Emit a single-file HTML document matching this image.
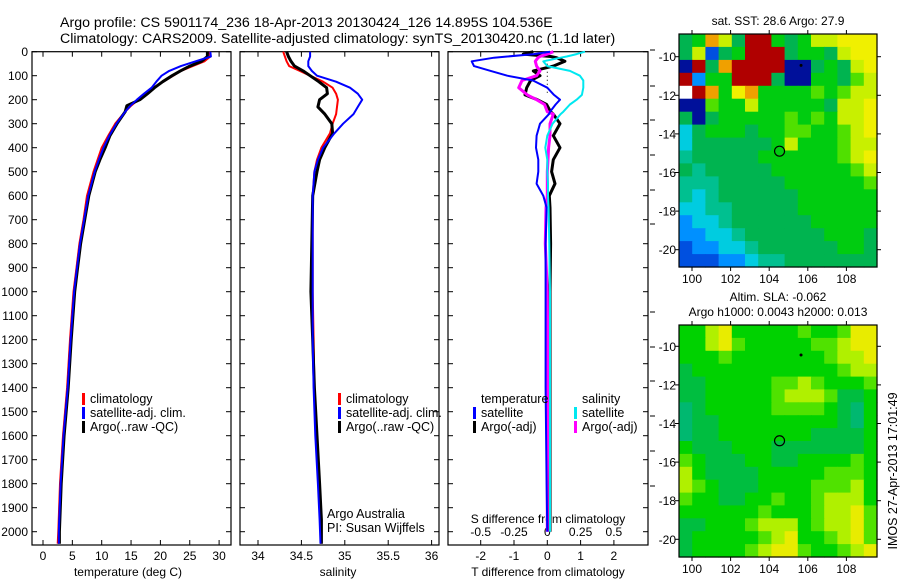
<!DOCTYPE html>
<html><head><meta charset="utf-8">
<style>
html,body{margin:0;padding:0;background:#fff;}
svg{display:block;font-family:"Liberation Sans",sans-serif;}
text{fill:#000;}
</style></head>
<body>
<svg id="chart" width="900" height="580" viewBox="0 0 900 580">
<text x="60" y="27" font-size="14.2">Argo profile: CS 5901174_236 18-Apr-2013 20130424_126 14.895S 104.536E</text>
<text x="60" y="43" font-size="14.2">Climatology: CARS2009. Satellite-adjusted climatology: synTS_20130420.nc (1.1d later)</text>
<g id="g"></g>
</svg>
<script>
// ---------- data ----------
const tDepth = [0,20,40,60,80,100,125,150,175,200,225,250,300,350,400,450,500,600,700,800,900,1000,1200,1400,1600,1800,2000,2050];
const tempClim = [28.3,28.5,27.5,25.5,23.5,22.2,20.5,18.8,17.4,16.2,15.0,14.0,12.3,11.1,10.0,9.3,8.6,7.5,6.9,6.2,5.7,5.2,4.6,4.1,3.4,2.9,2.6,2.5];
const tempSat  = [28.5,28.6,26.0,23.5,21.5,20.2,19.3,18.5,17.2,16.0,14.9,14.0,12.5,11.3,10.3,9.5,8.8,7.7,7.0,6.3,5.8,5.3,4.7,4.2,3.5,3.0,2.7,2.7];
const tempArgo = [28.0,28.0,27.0,25.0,23.4,22.0,20.4,19.0,17.8,16.5,14.3,14.0,12.6,11.4,10.6,9.7,8.9,7.8,7.1,6.4,5.9,5.4,4.8,4.3,3.6,3.1,2.8,2.8];

const sDepth = [0,20,40,60,80,100,125,150,175,200,230,260,300,340,400,450,500,600,800,1000,1200,1400,1600,1800,1950,2050];
const salClim = [34.29,34.31,34.33,34.36,34.48,34.60,34.75,34.86,34.90,34.92,34.91,34.90,34.86,34.83,34.73,34.68,34.65,34.63,34.63,34.63,34.64,34.65,34.67,34.70,34.72,34.73];
const salSat  = [34.60,34.60,34.58,34.58,34.62,34.68,34.90,35.06,35.15,35.20,35.15,35.10,34.98,34.88,34.75,34.69,34.65,34.63,34.63,34.63,34.63,34.64,34.66,34.69,34.71,34.72];
const salArgo = [34.33,34.35,34.38,34.42,34.52,34.60,34.70,34.79,34.80,34.71,34.69,34.77,34.85,34.86,34.77,34.71,34.68,34.63,34.62,34.61,34.63,34.65,34.68,34.71,34.73,34.73];

const dDepth = [0,10,20,25,40,60,80,100,120,150,180,200,220,250,260,300,350,400,450,500,550,600,650,800,1000,1400,1800,2000];
const tDiffSat  = [0.08,-0.4,-1.2,-1.6,-2.27,-2.2,-1.7,-1.2,-0.43,0.0,0.2,0.38,0.25,0.08,0.05,-0.22,-0.32,-0.34,-0.27,-0.27,-0.32,-0.12,-0.02,-0.05,-0.05,-0.05,-0.02,0.0];
const tDiffArgo = [-0.42,-0.72,0.1,0.28,0.53,0.18,-0.42,-0.22,-0.5,-0.62,-0.67,-0.3,-0.02,0.1,0.18,0.38,0.18,0.38,0.18,0.13,0.23,0.06,0.08,0.1,0.08,0.08,0.08,0.08];
const sDiffSat  = [0.283,0.22,0.146,0.1,-0.03,0.0,0.17,0.245,0.27,0.27,0.26,0.22,0.17,0.12,0.1,0.04,0.0,-0.015,0.0,0.0,0.005,0.005,0.01,0.015,0.02,0.02,0.02,0.02];
const sDiffArgo = [0.045,0.0,-0.055,-0.07,-0.09,-0.08,-0.055,-0.08,-0.19,-0.215,-0.15,-0.08,-0.02,0.0,0.045,0.02,0.02,0.01,0.005,0.0,0.0,0.0,-0.01,-0.015,0.0,0.005,0.0,0.0];

const depthTicks = [0,100,200,300,400,500,600,700,800,900,1000,1100,1200,1300,1400,1500,1600,1700,1800,1900,2000];
const tempTicks = [0,5,10,15,20,25,30];
const salTicks = [34,34.5,35,35.5,36];
const salTickLabels = ["34","34.5","35","35.5","36"];
const tdTicks = [-2,-1,0,1,2];
const sdTicks = [-0.5,-0.25,0,0.25,0.5];
const sdTickLabels = ["-0.5","-0.25","0","0.25","0.5"];
const lonTicks = [100,102,104,106,108];
const latTicks = [10,12,14,16,18,20];
const argoLon = 104.536, argoLat = 14.895;

const sstRows = [
"gGoygRRGgGyyYYY","gyBgGRRRgGGgyYY","DRgoRRRRDDgGgyY","RbGGRRRgDDGGgly",
"WRoGYoGGGGlGlyy","DDlGGyGGGGGgyyY","gDgGGGGGlGlGyyY","cgGGGgGGllGGlyY",
"cggggggGyGGGlyy","tgggggGGGGGGlyY","gtgggggGGGGGGly","tttgggggGGGGGGl",
"tctggggggGGGGGG","ccttgggggGGGGGG","bcctggggggGGGGG","bbcctggggggGGGg",
"BbbcctggggggGGg","BBBbbcttggggggg"];
const slaRows = [
"GGyYGGGGGlGGlYY","GGyYlGGGGGllyYY","GGGlGGGGGGGlyyY","gGGGGGGGGGGGlyy",
"ggGGGGGllylGGGl","ggGGGGGlyyylggG","tgGGGGGllllGgtG","tggGGGGGGGGGgtG",
"tggGGGGGGGggggG","GgggGGGgggggggG","lGgggGGggGGGGlG","yGggggGGGGGlllG",
"ylGgggGGGGlllyG","lGGggGGlGGlyyyG","GGGGGGlGGGlyyYl","ggGGGlyyyGlyyYl",
"gGGGGGlyYGGlyYl","gGGGGlyYYlGGlyY"];
const sstPal = {D:"#00109a",B:"#0050e0",b:"#0090ff",c:"#00cce0",t:"#00c090",g:"#00b450",G:"#00cc10",l:"#50e000",y:"#c8f000",Y:"#f0f000",o:"#f0a000",R:"#b00000",W:"#ffffff"};
const slaPal = {t:"#00b870",g:"#00be40",G:"#00d200",l:"#50e200",y:"#b0f000",Y:"#e8ec00"};

// ---------- helpers ----------
const NS="http://www.w3.org/2000/svg";
const root=document.getElementById('g');
function mk(tag,attrs,parent){const e=document.createElementNS(NS,tag);for(const k in attrs)e.setAttribute(k,attrs[k]);(parent||root).appendChild(e);return e;}
function txt(x,y,s,size,anchor,parent){const t=mk('text',{x:x,y:y,'font-size':size||12,'text-anchor':anchor||'start'},parent);t.textContent=s;return t;}

const yTop=51.7, pxPer100=24.0;
function yD(d){return yTop+d*pxPer100/100;}
const plotBottom=545;

function panel(x0,x1,name){
  const g=mk('g',{});
  
  
  const r=mk('rect',{x:x0,y:yTop,width:x1-x0,height:plotBottom-yTop,fill:'none',stroke:'#000','stroke-width':1.2},g);
  
  
  return g;
}
function line(g,xs,ys,fx,color,w,name){
  let d='';for(let i=0;i<xs.length;i++){d+=(i?'L':'M')+fx(xs[i]).toFixed(1)+','+yD(ys[i]).toFixed(1);}
  const p=mk('path',{d:d,fill:'none',stroke:color,'stroke-width':w,'stroke-linejoin':'round'},g);
  
  
  return p;
}
function legendEntry(g,x,y,color,label,name){
  const r=mk('rect',{x:x,y:y-10,width:3,height:12,fill:color},g);
  
  
  const t=txt(x+8,y,label,12.5,'start',g);
  
  
}

const P1=[32,231],P2=[240,439],P3=[448,648];
const yax=mk('g',{});


depthTicks.forEach(d=>{txt(28,yD(d)+4.5,String(d),12,'end',yax);});
[P1,P2,P3].forEach(P=>{depthTicks.forEach(d=>{
  mk('line',{x1:P[0],x2:P[0]+5,y1:yD(d),y2:yD(d),stroke:'#000'},yax);
  mk('line',{x1:P[1]-5,x2:P[1],y1:yD(d),y2:yD(d),stroke:'#000'},yax);
});});

// ---------- Panel 1 ----------
const fT=v=>43+(v-0)*5.87;
const g1=panel(P1[0],P1[1],'temperature-panel');
tempTicks.forEach(v=>{
  mk('line',{x1:fT(v),x2:fT(v),y1:plotBottom,y2:plotBottom-5,stroke:'#000'},g1);
  mk('line',{x1:fT(v),x2:fT(v),y1:yTop,y2:yTop+5,stroke:'#000'},g1);
  const t=txt(fT(v),560,String(v),12,'middle',g1);
  
  
});
txt(128,576,'temperature (deg C)',12,'middle',g1);
line(g1,tempClim,tDepth,fT,'#ff0000',2,'temp-climatology-line');
line(g1,tempArgo,tDepth,fT,'#000',3,'temp-argo-line');
line(g1,tempSat,tDepth,fT,'#0000ff',2,'temp-satellite-line');
legendEntry(g1,82,403,'#ff0000','climatology','legend-climatology');
legendEntry(g1,82,417,'#0000ff','satellite-adj. clim.','legend-satellite-adj');
legendEntry(g1,82,431,'#000','Argo(..raw -QC)','legend-argo');

// ---------- Panel 2 ----------
const fS=v=>258+(v-34)*86.8;
const g2=panel(P2[0],P2[1],'salinity-panel');
salTicks.forEach((v,i)=>{
  mk('line',{x1:fS(v),x2:fS(v),y1:plotBottom,y2:plotBottom-5,stroke:'#000'},g2);
  mk('line',{x1:fS(v),x2:fS(v),y1:yTop,y2:yTop+5,stroke:'#000'},g2);
  const t=txt(fS(v),560,salTickLabels[i],12,'middle',g2);
  
  
});
txt(338,576,'salinity',12,'middle',g2);
line(g2,salClim,sDepth,fS,'#ff0000',2,'sal-climatology-line');
line(g2,salArgo,sDepth,fS,'#000',3,'sal-argo-line');
line(g2,salSat,sDepth,fS,'#0000ff',2,'sal-satellite-line');
legendEntry(g2,338,403,'#ff0000','climatology','legend-climatology-2');
legendEntry(g2,338,417,'#0000ff','satellite-adj. clim.','legend-satellite-adj-2');
legendEntry(g2,338,431,'#000','Argo(..raw -QC)','legend-argo-2');
txt(327,518,'Argo Australia',12.5,'start',g2);
txt(327,532,'PI: Susan Wijffels',12.5,'start',g2);

// ---------- Panel 3 ----------
const fD=v=>547.3+v*33.3;
const fDS=v=>547.3+v*133.2;
const g3=panel(P3[0],P3[1],'difference-panel');
tdTicks.forEach(v=>{
  mk('line',{x1:fD(v),x2:fD(v),y1:plotBottom,y2:plotBottom-5,stroke:'#000'},g3);
  mk('line',{x1:fD(v),x2:fD(v),y1:yTop,y2:yTop+5,stroke:'#000'},g3);
  const t=txt(fD(v),560,String(v),12,'middle',g3);
  
  
});
sdTicks.forEach((v,i)=>{
  const t=txt(fDS(v),536,sdTickLabels[i],12,'middle',g3);
  
  
});
txt(548,523,'S difference from climatology',12,'middle',g3);
txt(548,576,'T difference from climatology',12,'middle',g3);
mk('line',{x1:fD(0),x2:fD(0),y1:yTop,y2:yD(180),stroke:'#000','stroke-dasharray':'1,3'},g3);
line(g3,tDiffArgo,dDepth,fD,'#000',3,'tdiff-argo-line');
line(g3,sDiffArgo,dDepth,fDS,'#ff00ff',3,'sdiff-argo-line');
line(g3,tDiffSat,dDepth,fD,'#0000ff',2,'tdiff-satellite-line');
line(g3,sDiffSat,dDepth,fDS,'#00e8f0',2,'sdiff-satellite-line');
txt(481,403,'temperature',12.5,'start',g3);
txt(582,403,'salinity',12.5,'start',g3);
legendEntry(g3,473,417,'#0000ff','satellite','legend-t-satellite');
legendEntry(g3,473,431,'#000','Argo(-adj)','legend-t-argo');
legendEntry(g3,574,417,'#00e8f0','satellite','legend-s-satellite');
legendEntry(g3,574,431,'#ff00ff','Argo(-adj)','legend-s-argo');
[50,86,120,155,190,224,312,347,381,416,451,486].forEach(y=>{mk('line',{x1:650,x2:655,y1:y,y2:y,stroke:'#000'},g3);});

// ---------- Maps ----------
const MX0=679,MX1=877;
const fLon=v=>692+(v-100)*19.3;
function map(yt,yb,lat10y,rows,pal,name,title1,title2){
  const g=mk('g',{});
  
  
  const fLat=v=>lat10y+(v-10)*19.3;
  const latTop=10+(yt-lat10y)/19.3, latBot=10+(yb-lat10y)/19.3;
  const lonL=100+(MX0-692)/19.3, lonR=100+(MX1-692)/19.3;
  const nr=rows.length, nc=rows[0].length;
  const dLat=(latBot-latTop)/nr, dLon=(lonR-lonL)/nc;
  for(let r=0;r<nr;r++)for(let c=0;c<nc;c++){
    const x=fLon(lonL+c*dLon), y=fLat(latTop+r*dLat);
    const cell=mk('rect',{x:x.toFixed(1),y:y.toFixed(1),width:(dLon*19.3+0.6).toFixed(1),height:(dLat*19.3+0.6).toFixed(1),fill:pal[rows[r][c]]},g);
    
    
  }
  mk('rect',{x:MX0,y:yt,width:MX1-MX0,height:yb-yt,fill:'none',stroke:'#000','stroke-width':1.2},g);
  lonTicks.forEach(v=>{
    mk('line',{x1:fLon(v),x2:fLon(v),y1:yb,y2:yb+4,stroke:'#000'},g);
    mk('line',{x1:fLon(v),x2:fLon(v),y1:yt,y2:yt-4,stroke:'#000'},g);
    txt(fLon(v),yb+16,String(v),12,'middle',g);
  });
  latTicks.forEach(v=>{
    mk('line',{x1:MX0,x2:MX0-4,y1:fLat(v),y2:fLat(v),stroke:'#000'},g);
    mk('line',{x1:MX1,x2:MX1+4,y1:fLat(v),y2:fLat(v),stroke:'#000'},g);
    txt(676,fLat(v)+4.5,'-'+v,12,'end',g);
  });
  const c=mk('circle',{cx:fLon(argoLon),cy:fLat(argoLat),r:5,fill:'none',stroke:'#000','stroke-width':1.2},g);
  
  
  mk('circle',{cx:fLon(105.65),cy:fLat(10.45),r:1.5,fill:'#000'},g);
  if(title2){txt(778,yt-24,title1,12,'middle',g);txt(778,yt-9,title2,12,'middle',g);}
  else txt(778,yt-9,title1,12,'middle',g);
  return g;
}
map(34,267,56.7,sstRows,sstPal,'sst-map','sat. SST: 28.6 Argo: 27.9');
map(325,557,346.3,slaRows,slaPal,'sla-map','Altim. SLA: -0.062','Argo h1000: 0.0043 h2000: 0.013');
const ts=txt(0,0,'IMOS 27-Apr-2013 17:01:49',12.5,'middle');
ts.setAttribute('transform','translate(897,471) rotate(-90)');


</script>
</body></html>
